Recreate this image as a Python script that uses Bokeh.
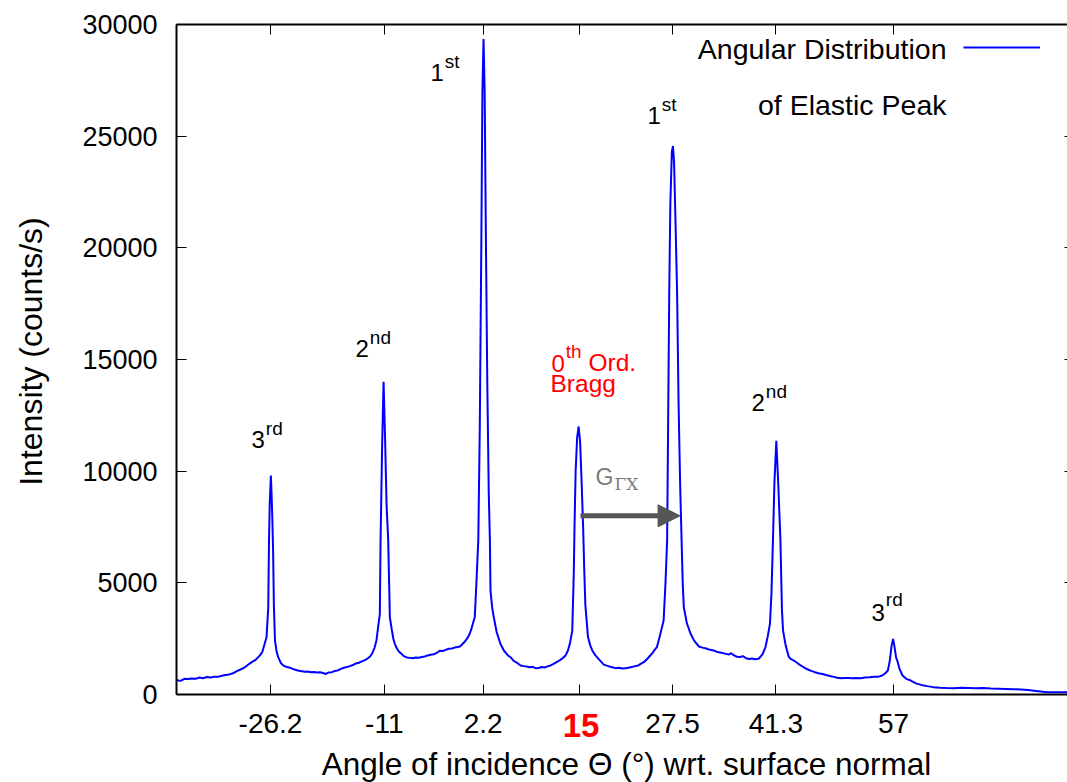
import math
from bokeh.plotting import figure
from bokeh.models import (Range1d, FixedTicker, LinearAxis, Label, LabelSet, Legend,
                          LegendItem, Arrow, NormalHead, ColumnDataSource)
from bokeh.core.properties import value
from bokeh.embed import file_html
from bokeh.resources import INLINE

# ---------------- data ----------------
angle = [
    -38.7, -38.2, -37.7, -37.2, -36.7, -36.2, -35.7, -35.2, -34.7, -34.2, -33.7, -33.2,
    -32.7, -32.2, -31.7, -31.2, -30.7, -30.2, -29.7, -29.2, -28.7, -28.2, -27.7, -27.3,
    -27.0, -26.73, -26.5, -26.4, -26.3, -26.15, -26.05, -25.95, -25.85, -25.75, -25.6,
    -25.4, -25.17, -24.8, -24.4, -24.0, -23.6, -23.2, -22.8, -22.4, -22.0, -21.6, -21.2,
    -20.8, -20.4, -20.0, -19.6, -19.2, -18.8, -18.4, -18.0, -17.6, -17.2, -16.8, -16.4,
    -16.0, -15.6, -15.2, -14.8, -14.4, -14.0, -13.6, -13.2, -12.9, -12.6, -12.3, -12.05,
    -11.8, -11.6, -11.5, -11.3, -11.1, -10.9, -10.7, -10.48, -10.26, -10.0, -9.8, -9.6,
    -9.3, -9.0, -8.7, -8.4, -8.0, -7.6, -7.2, -6.8, -6.4, -6.0, -5.6, -5.2, -4.8, -4.4,
    -4.0, -3.6, -3.2, -2.8, -2.4, -2.0, -1.6, -1.2, -0.9, -0.6, -0.3, 0.0, 0.3, 0.6,
    0.85, 1.08, 1.3, 1.55, 1.75, 1.95, 2.1, 2.25, 2.4, 2.55, 2.75, 2.95, 3.1, 3.18,
    3.4, 3.62, 4.0, 4.5, 5.0, 5.5, 5.85, 6.3, 6.8, 7.2, 7.63, 8.0, 8.4, 8.8, 9.2, 9.63,
    10.0, 10.4, 10.8, 11.2, 11.6, 12.0, 12.4, 12.8, 13.2, 13.5, 13.8, 14.1, 14.3, 14.4,
    14.55, 14.75, 14.95, 15.15, 15.35, 15.55, 15.7, 15.85, 16.2, 16.5, 16.8, 17.2, 17.7,
    18.3, 18.8, 19.3, 19.87, 20.3, 20.8, 21.4, 21.9, 22.4, 22.9, 23.3, 23.65, 24.0, 24.4,
    24.8, 25.1, 25.4, 25.7, 26.0, 26.3, 26.55, 26.77, 26.9, 27.05, 27.2, 27.4, 27.55,
    27.7, 27.9, 28.1, 28.3, 28.5, 28.7, 28.85, 29.0, 29.4, 29.9, 30.4, 31.0, 31.5, 32.0,
    32.5, 33.0, 33.5, 34.0, 34.5, 35.0, 35.3, 35.7, 36.1, 36.5, 36.9, 37.3, 37.7, 38.1,
    38.5, 39.0, 39.5, 39.9, 40.2, 40.5, 40.7, 40.9, 41.1, 41.35, 41.6, 41.9, 42.1, 42.25,
    42.6, 43.0, 43.25, 43.7, 44.2, 44.6, 45.0, 45.5, 46.0, 46.5, 47.0, 47.5, 48.0, 48.5,
    49.0, 49.5, 50.0, 50.5, 51.0, 51.5, 52.0, 52.6, 53.2, 53.8, 54.4, 55.0, 55.5, 55.9,
    56.25, 56.5, 56.75, 56.95, 57.15, 57.35, 57.5, 57.8, 58.2, 58.7, 59.3, 60.0, 60.7,
    61.5, 62.3, 63.2, 64.1, 65.05, 66.0, 67.0, 68.0, 69.0, 70.0, 71.0, 72.0, 73.0, 74.0,
    75.0, 76.0, 77.0, 77.5, 78.5, 79.5, 80.2,
]
intensity = [
    640, 610, 700, 690, 720, 700, 760, 730, 780, 760, 800, 790,
    840, 870, 900, 950, 1050, 1120, 1200, 1330, 1450, 1550, 1720, 1900,
    2250, 2560, 3900, 6900, 8600, 9800, 8900, 7800, 6400, 4000, 2420,
    1950, 1670, 1400, 1280, 1230, 1200, 1140, 1100, 1060, 1040, 1020, 1030,
    1000, 1010, 990, 1000, 960, 920, 990, 1000, 1050, 1080, 1150, 1200,
    1230, 1270, 1320, 1390, 1420, 1480, 1540, 1620, 1700, 1850, 2100, 2420,
    3100, 3600, 6900, 11000, 14000, 11500, 8500, 6900, 3460, 2900, 2500, 2270,
    2050, 1900, 1820, 1720, 1660, 1640, 1620, 1660, 1650, 1680, 1700, 1750, 1780, 1800,
    1860, 1960, 1950, 2000, 2050, 2060, 2100, 2130, 2150, 2250, 2350, 2480, 2640, 2900,
    3200, 3460, 5000, 6900, 12000, 20000, 27000, 29350, 27000, 21000, 14000, 9000, 6900, 4650,
    3900, 3460, 2800, 2270, 1950, 1750, 1670, 1500, 1400, 1300, 1270, 1250, 1220, 1240, 1180, 1190,
    1230, 1210, 1260, 1300, 1370, 1450, 1530, 1620, 1750, 1950, 2300, 2860, 5400, 7500,
    10000, 11500, 12000, 11300, 9500, 7500, 5600, 4000, 2570, 2200, 1950, 1750, 1560,
    1340, 1280, 1230, 1180, 1200, 1160, 1190, 1220, 1260, 1300, 1380, 1450, 1550, 1700,
    1850, 2000, 2120, 2500, 2900, 3310, 5000, 6900, 12000, 18000, 22000, 24300, 24560,
    23800, 21000, 18000, 13000, 9500, 6900, 5000, 3900, 3200, 2720, 2400, 2150, 2100, 2060,
    2000, 1970, 1900, 1870, 1830, 1790, 1850, 1750, 1690, 1680, 1720, 1620, 1590, 1610,
    1580, 1600, 1800, 2120, 2600, 3160, 4500, 6900, 9500, 11360, 9500, 6900, 3800, 2860,
    2200, 1700, 1600, 1520, 1400, 1300, 1220, 1130, 1060, 1000, 950, 920, 870, 830,
    790, 750, 730, 740, 740, 730, 740, 730, 760, 770, 790, 800, 850, 950,
    1075, 1500, 2200, 2490, 2100, 1650, 1520, 1150, 850, 700, 626, 500, 430,
    375, 330, 300, 290, 283, 300, 290, 280, 290, 270, 260, 250, 240, 224,
    200, 160, 120, 104, 100, 100, 104,
]

x_ticks = [-26.2, -11.0, 2.2, 15.0, 27.5, 41.3, 57.0]
x_tick_labels = ["-26.2", "-11", "2.2", "15", "27.5", "41.3", "57"]
highlight_tick = 15.0
y_ticks = [0, 5000, 10000, 15000, 20000, 25000, 30000]
x_lo, x_hi = -38.75, 81.2      # plotted angle span
y_lo, y_hi = 0, 30000          # plotted intensity span

series_name = "Angular Distribution"
series_name_2 = "of Elastic Peak"
x_title = "Angle of incidence \u0398 (\u00b0) wrt. surface normal"
y_title = "Intensity (counts/s)"

FONT = "Liberation Sans"
W, H = 1067, 782

# pixel <-> data mapping: the whole canvas is the frame; the axes box spans
# x px 176..(off right edge) and y px 24..694
XS = 7.488                 # px per degree
YS = 30000 / 670           # counts per px
def dx(px):
    return -26.2 + (px - 270) / XS

def dy(py):
    return (694 - py) * YS

p = figure(width=W, height=H, output_backend="svg", toolbar_location=None,
           x_range=Range1d(dx(0), dx(W)), y_range=Range1d(dy(H), dy(0)),
           min_border_left=0, min_border_right=0, min_border_top=0,
           min_border_bottom=0)
p.background_fill_color = "white"
p.border_fill_color = "white"
p.outline_line_color = None
p.xgrid.visible = False
p.ygrid.visible = False

r = p.line(angle, intensity, line_color="#0000ff", line_width=2)

xt = FixedTicker(ticks=x_ticks)
yt = FixedTicker(ticks=y_ticks)
blank_x = {t: "" for t in x_ticks}
blank_y = {t: "" for t in y_ticks}

def style_axis(ax, ticker, blanks, loc, bounds):
    ax.ticker = ticker
    ax.fixed_location = loc
    ax.bounds = bounds
    ax.major_tick_in = 10
    ax.major_tick_out = 0
    ax.major_tick_line_color = "black"
    ax.major_tick_line_width = 1
    ax.minor_tick_line_color = None
    ax.axis_line_color = "black"
    ax.axis_line_width = 2
    ax.major_label_overrides = blanks
    ax.major_label_text_font_size = "0px"
    ax.major_label_standoff = 0
    ax.axis_label = None

style_axis(p.xaxis[0], xt, blank_x, y_lo, (x_lo, x_hi))
style_axis(p.yaxis[0], yt, blank_y, x_lo, (y_lo, y_hi))
top = LinearAxis()
right = LinearAxis()
p.add_layout(top, "above")
p.add_layout(right, "right")
style_axis(top, xt, blank_x, y_hi, (x_lo, x_hi))
style_axis(right, yt, blank_y, x_hi, (y_lo, y_hi))

# tick labels (drawn as text sets so the highlighted one can be red and bold)
is_hi = [t == highlight_tick for t in x_ticks]
xlab_src = ColumnDataSource(dict(
    x=x_ticks, y=[y_lo] * len(x_ticks), text=x_tick_labels,
    color=["#ff0000" if h else "black" for h in is_hi],
    size=["33px" if h else "28px" for h in is_hi],
    style=["bold" if h else "normal" for h in is_hi],
    xo=[2 if h else 0 for h in is_hi],
    yo=[-31 if h else -28.5 for h in is_hi],
))
p.add_layout(LabelSet(x="x", y="y", text="text", source=xlab_src, x_offset="xo",
                      y_offset="yo", text_color="color", text_font_size="size",
                      text_font_style="style", text_font=value(FONT), text_align="center",
                      text_baseline="middle"))
ylab_src = ColumnDataSource(dict(
    x=[x_lo] * len(y_ticks), y=y_ticks, text=[str(v) for v in y_ticks]))
p.add_layout(LabelSet(x="x", y="y", text="text", source=ylab_src, x_offset=-19,
                      y_offset=0, text_color="black", text_font_size=value("27px"),
                      text_font=value(FONT), text_align="right", text_baseline="middle"))

# axis titles
p.add_layout(Label(x=dx(626), y=dy(763), text=x_title, text_align="center",
                   text_baseline="middle", text_font=FONT, text_font_size="31.5px",
                   text_color="black"))
p.add_layout(Label(x=dx(30), y=dy(351), text=y_title, text_align="center",
                   text_baseline="middle", text_font=FONT, text_font_size="32px",
                   text_color="black", angle=math.pi / 2, angle_units="rad"))

# legend (sample line) + key text
legend = Legend(items=[LegendItem(label=" ", renderers=[r])], location=(963, H - 57),
                padding=0, margin=0, spacing=0, border_line_color=None,
                background_fill_alpha=0, glyph_width=77, glyph_height=20,
                label_standoff=0, label_width=0, label_height=20,
                label_text_font_size="1px")
p.add_layout(legend)
p.add_layout(Label(x=dx(946), y=dy(48), text=series_name, text_align="right",
                   text_baseline="middle", text_font=FONT, text_font_size="28.5px",
                   text_color="black"))
p.add_layout(Label(x=dx(946), y=dy(104), text=series_name_2, text_align="right",
                   text_baseline="middle", text_font=FONT, text_font_size="28.5px",
                   text_color="black"))

def text_at(px, pyc, text, size, color="black", font=FONT, xo=0, yo=0):
    p.add_layout(Label(x=dx(px), y=dy(pyc), x_offset=xo, y_offset=yo, text=text,
                       text_align="left", text_baseline="middle", text_font=font,
                       text_font_size=f"{size}px", text_color=color))

def sup_label(px, base, main, sup, color="black", size=24, ssize=19, rise=11):
    pyc = base - 0.35 * size
    text_at(px, pyc, main, size, color)
    text_at(px, pyc, sup, ssize, color, xo=0.556 * size * len(main) + 1, yo=rise)

sup_label(251, 447, "3", "rd")
sup_label(355, 356, "2", "nd")
sup_label(430, 80, "1", "st")
sup_label(647, 123, "1", "st")
sup_label(751, 410, "2", "nd")
sup_label(871, 620, "3", "rd", rise=13)
sup_label(551, 371, "0", "th", color="#ff0000", rise=12)
text_at(588, 371 - 0.35 * 24.5, "Ord.", 24.5, "#ff0000")
text_at(550, 392 - 0.35 * 24.5, "Bragg", 24.5, "#ff0000")

# G_{Gamma X}
text_at(595, 476, "G", 23, "#7a7a7a")
text_at(595, 476, "\u0393X", 17, "#7a7a7a", font="DejaVu Serif", xo=19, yo=-7)

p.add_layout(Arrow(end=NormalHead(size=22, fill_color="#555555", line_color="#555555"),
                   x_start=15.2, y_start=8000, x_end=28.5, y_end=8000,
                   line_color="#555555", line_width=5))

open("out.html", "w").write(file_html(p, INLINE))
